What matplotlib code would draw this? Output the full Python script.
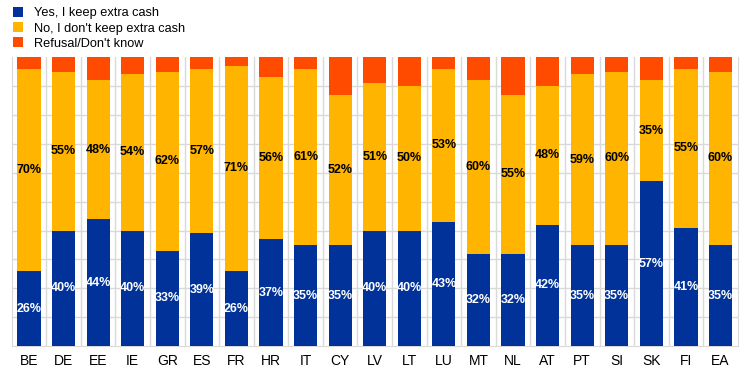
import numpy as np
import matplotlib.pyplot as plt

plt.rcParams['font.family'] = ['Liberation Sans', 'DejaVu Sans']

countries = ['BE', 'DE', 'EE', 'IE', 'GR', 'ES', 'FR', 'HR', 'IT', 'CY', 'LV',
             'LT', 'LU', 'MT', 'NL', 'AT', 'PT', 'SI', 'SK', 'FI', 'EA']
yes_cash = [26, 40, 44, 40, 33, 39, 26, 37, 35, 35, 40, 40, 43, 32, 32, 42, 35, 35, 57, 41, 35]
no_cash = [70, 55, 48, 54, 62, 57, 71, 56, 61, 52, 51, 50, 53, 60, 55, 48, 59, 60, 35, 55, 60]
refusal = [4, 5, 8, 6, 5, 4, 3, 7, 4, 13, 9, 10, 4, 8, 13, 10, 6, 5, 8, 4, 5]

blue = '#003299'
yellow = '#FFB400'
orange = '#FF4B00'
grid_c = '#d9d9d9'

fig = plt.figure(figsize=(7.44, 3.73), dpi=100)
ax = fig.add_axes([0.0157, 0.072, 0.976, 0.775])

x = np.arange(len(countries))
yes_a = np.array(yes_cash)
no_a = np.array(no_cash)
ref_a = np.array(refusal)

w = 0.67
b1 = ax.bar(x, yes_a, w, color=blue, label='Yes, I keep extra cash', zorder=3)
b2 = ax.bar(x, no_a, w, bottom=yes_a, color=yellow, label="No, I don't keep extra cash", zorder=3)
b3 = ax.bar(x, ref_a, w, bottom=yes_a + no_a, color=orange, label="Refusal/Don't know", zorder=3)

for i in range(len(countries)):
    ax.text(x[i], yes_a[i] / 2, '%d%%' % yes_a[i], ha='center', va='center',
            color='white', fontsize=9, fontweight='bold', zorder=4)
    ax.text(x[i], yes_a[i] + no_a[i] / 2, '%d%%' % no_a[i], ha='center', va='center',
            color='black', fontsize=9, fontweight='bold', zorder=4)

ax.set_xlim(-0.5, len(countries) - 0.5)
ax.set_ylim(0, 100)

# grid: horizontal every 10%, vertical between categories
for yv in range(10, 100, 10):
    ax.axhline(yv, color=grid_c, lw=1, zorder=1)
for xv in np.arange(0.5, len(countries) - 0.5, 1):
    ax.axvline(xv, color=grid_c, lw=1, zorder=1)

ax.set_xticks(x)
ax.set_xticklabels(countries, fontsize=10)
ax.tick_params(axis='x', length=0, pad=6)
ax.set_yticks([])
ax.spines['top'].set_visible(False)
for s in ['left', 'bottom', 'right']:
    ax.spines[s].set_color(grid_c)

fig.legend(handles=[b1, b2, b3], loc='upper left', bbox_to_anchor=(0.01, 0.995),
           frameon=False, fontsize=9.2, handlelength=0.85, handleheight=0.85,
           handletextpad=0.85, labelspacing=0.2, borderaxespad=0.0)

fig.savefig('out.png', dpi=100)
